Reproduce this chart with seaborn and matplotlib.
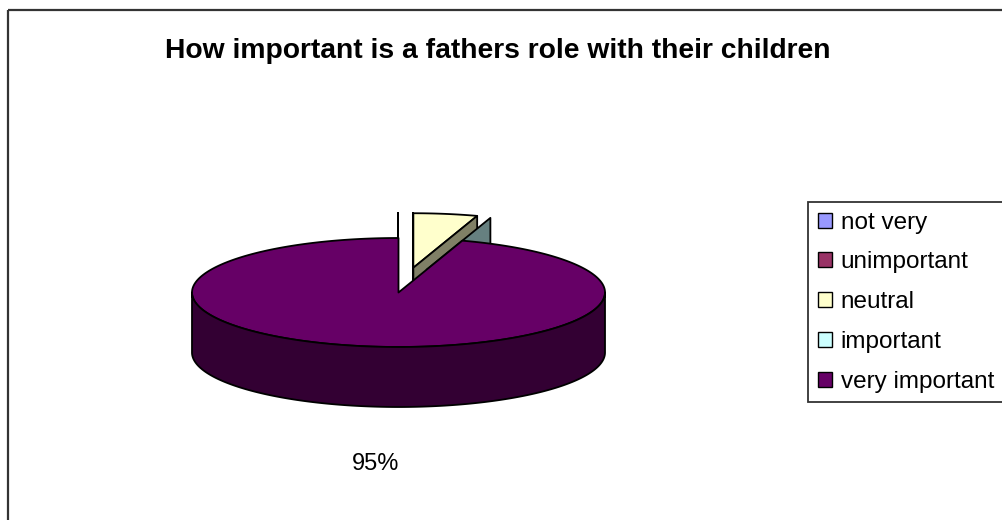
import numpy as np
import matplotlib
matplotlib.use("Agg")
import matplotlib.pyplot as plt
from matplotlib.patches import Polygon, Rectangle, Patch
import seaborn as sns

# Survey answers and their shares
categories = ["not very", "unimportant", "neutral", "important", "very important"]
values = [0, 0, 5, 0, 95]
title = "How important is a fathers role with their children"

# Slice colours and how far each slice is pulled out (fraction of radius)
slice_colors = ["#9999FF", "#993366", "#FFFFCC", "#CCFFFF", "#660066"]
explode = [0.46, 0.46, 0.46, 0.44, 0.0]
label_min_share = 0.10

sns.set_theme(style="white")
plt.rcParams["font.family"] = ["Liberation Sans", "DejaVu Sans"]
plt.rcParams["text.color"] = "black"
palette = sns.color_palette(slice_colors)

W, H = 1003, 520
fig = plt.figure(figsize=(W / 100, H / 100), dpi=100)
ax = fig.add_axes([0, 0, 1, 1])
ax.set_xlim(0, W)
ax.set_ylim(H, 0)
ax.axis("off")

# Outer chart border
ax.add_patch(Rectangle((8, 10), 1200, 700, fill=False, edgecolor="#333333",
                       linewidth=1.6, zorder=0))

# Tilted pie geometry (screen units)
cx, cy, rx, ry, depth = 398.5, 292.5, 206.5, 54.5, 60.0
EDGE = dict(edgecolor="black", linewidth=1.3, joinstyle="round")


def proj(theta, r, off, z=0.0):
    t = np.radians(theta)
    return (cx + off[0] + rx * r * np.sin(t), cy + off[1] - ry * r * np.cos(t) + z)


def shade(c, k=0.5):
    return tuple(v * k for v in c)


total = float(sum(values))
faces = []  # (depth key, polygon points, colour)
start = 0.0
label_spots = []
for val, col, ex in zip(values, palette, explode):
    span = 360.0 * val / total
    a0, a1 = start, start + span
    mid = (a0 + a1) / 2
    off = (rx * ex * np.sin(np.radians(mid)), -ry * ex * np.cos(np.radians(mid)))
    front_off = -ex * np.cos(np.radians(mid))

    # top face
    if span > 0:
        ts = np.linspace(a0, a1, max(int(span * 2), 2))
        pts = [proj(a0, 0, off)] + [proj(t, 1, off) for t in ts]
        cen = -np.mean([np.cos(np.radians(t)) for t in ts]) * 0.66 * (span / 360 < 0.9) + front_off
        faces.append((cen, pts, col))

    # radial cut faces (start face normal at a0-90, end face normal at a1+90)
    for ang, nrm in ((a0, a0 - 90), (a1, a1 + 90)):
        if np.cos(np.radians(nrm)) <= 1e-9:
            p0, p1 = proj(ang, 0, off), proj(ang, 1, off)
            pts = [p0, p1, (p1[0], p1[1] + depth), (p0[0], p0[1] + depth)]
            key = -0.5 * np.cos(np.radians(ang)) + front_off
            faces.append((key, pts, shade(col)))

    # outer wall, only the half facing the viewer
    lo, hi = max(a0, 90.0), min(a1, 270.0)
    if hi > lo:
        ts = np.linspace(lo, hi, int((hi - lo) * 2) + 2)
        top = [proj(t, 1, off) for t in ts]
        bot = [(x, y + depth) for x, y in top[::-1]]
        key = -np.mean([np.cos(np.radians(t)) for t in ts]) + front_off
        faces.append((key, top + bot, shade(col)))

    if val / total >= label_min_share:
        lx = proj(mid, 0.7, off)[0]
        ly = proj(mid, 1, off, depth)[1] + 58
        label_spots.append((lx, ly, f"{val / total:.0%}"))
    start = a1

for _, pts, col in sorted(faces, key=lambda f: f[0]):
    ax.add_patch(Polygon(pts, closed=True, facecolor=col, **EDGE))

for lx, ly, txt in label_spots:
    ax.text(lx, ly, txt, ha="center", va="center", fontsize=17, color="black")

ax.text(498, 58, title, ha="center", va="baseline", fontsize=20.3,
        fontweight="bold", color="black")

handles = [Patch(facecolor=c, edgecolor="black", linewidth=1.0) for c in palette]
leg = fig.legend(handles, categories, loc="upper left",
                 bbox_to_anchor=(808 / W, 1 - 202 / H), borderaxespad=0,
                 fontsize=17.5, frameon=True, fancybox=False, shadow=False,
                 handlelength=0.58, handleheight=0.58, handletextpad=0.37,
                 labelspacing=0.73, borderpad=0.4)
leg.get_frame().set_edgecolor("black")
leg.get_frame().set_linewidth(1.3)
leg.get_frame().set_facecolor("white")
for t in leg.get_texts():
    t.set_color("black")

fig.savefig("out.png", dpi=100, facecolor="white")
